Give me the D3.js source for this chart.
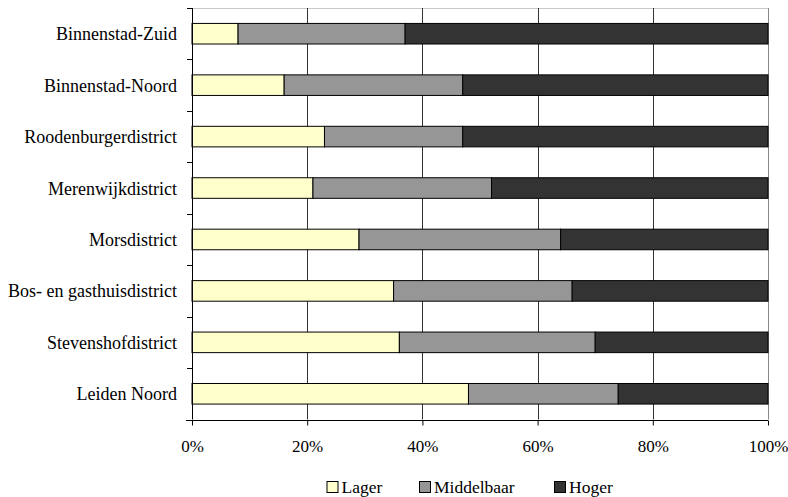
<!DOCTYPE html>
<html>
<head>
<meta charset="utf-8">
<script src="https://cdn.jsdelivr.net/npm/d3@7"></script>
<style>
  html, body { margin: 0; padding: 0; background: #fff; }
</style>
</head>
<body>
<svg id="chart" width="788" height="497"></svg>
<script>
// Opleidingsniveau per district (aandeel in %)
const categories = [
  "Binnenstad-Zuid",
  "Binnenstad-Noord",
  "Roodenburgerdistrict",
  "Merenwijkdistrict",
  "Morsdistrict",
  "Bos- en gasthuisdistrict",
  "Stevenshofdistrict",
  "Leiden Noord"
];
const seriesNames = ["Lager", "Middelbaar", "Hoger"];
const lager      = [8, 16, 23, 21, 29, 35, 36, 48];
const middelbaar = [29, 31, 24, 31, 35, 31, 34, 26];
const hoger      = [63, 53, 53, 48, 36, 34, 30, 26];
const xTicks = [0, 0.2, 0.4, 0.6, 0.8, 1];
const colors = ["#FFFFCC", "#969696", "#333333"];

const FONT = '"Liberation Serif", "Times New Roman", serif';

const svg = d3.select("#chart");
const margin = { left: 192, right: 20, top: 8, bottom: 77.5 };
const W = 788, H = 497;
const x0 = margin.left, x1 = W - margin.right;
const y0 = margin.top, y1 = H - margin.bottom;

const x = d3.scaleLinear().domain([0, 1]).range([x0, x1]);
const y = d3.scaleBand().domain(categories).range([y0, y1])
  .paddingInner(0.6).paddingOuter(0.3);

// rows: per category the three shares as fractions
const rows = categories.map((c, i) => ({
  cat: c, Lager: lager[i] / 100, Middelbaar: middelbaar[i] / 100, Hoger: hoger[i] / 100
}));
const stacked = d3.stack().keys(seriesNames)(rows);

// plot frame (top edge)
svg.append("line").attr("x1", x0).attr("x2", x1).attr("y1", y0 + 0.5).attr("y2", y0 + 0.5)
  .attr("stroke", "#c8c8c8").attr("stroke-width", 1);

// vertical gridlines
svg.append("g").selectAll("line").data(xTicks.slice(1)).join("line")
  .attr("x1", d => Math.round(x(d)) + 0.5).attr("x2", d => Math.round(x(d)) + 0.5)
  .attr("y1", y0).attr("y2", y1)
  .attr("stroke", d => d === 1 ? "#888" : "#333").attr("stroke-width", 1);

// stacked bars
svg.append("g").selectAll("g").data(stacked).join("g")
  .attr("fill", (d, i) => colors[i])
  .selectAll("rect").data(d => d).join("rect")
  .attr("x", d => x(d[0]))
  .attr("y", d => y(d.data.cat))
  .attr("width", d => x(d[1]) - x(d[0]))
  .attr("height", y.bandwidth())
  .attr("stroke", "#000").attr("stroke-width", 1);

// left axis with ticks at category boundaries
const yAxisG = svg.append("g");
yAxisG.append("line").attr("x1", x0 + 0.5).attr("x2", x0 + 0.5).attr("y1", y0).attr("y2", y1)
  .attr("stroke", "#000");
const rowH = (y1 - y0) / categories.length;
const boundaries = d3.range(categories.length + 1).map(i => y0 + i * rowH);
yAxisG.selectAll("line.tick").data(boundaries).join("line").attr("class", "tick")
  .attr("x1", x0 - 5).attr("x2", x0)
  .attr("y1", d => Math.round(d) + 0.5).attr("y2", d => Math.round(d) + 0.5)
  .attr("stroke", "#000");
yAxisG.selectAll("text").data(categories).join("text")
  .attr("x", 177).attr("y", d => y(d) + y.bandwidth() / 2)
  .attr("dy", "0.36em").attr("text-anchor", "end")
  .style("font-family", FONT).style("font-size", "18px").attr("fill", "#000")
  .text(d => d);

// bottom axis
const xAxis = d3.axisBottom(x).tickValues(xTicks).tickFormat(d3.format(".0%"))
  .tickSize(5).tickPadding(14.5);
const xg = svg.append("g").attr("transform", `translate(0,${Math.round(y1) + 0.5})`).call(xAxis);
xg.attr("font-family", null).attr("font-size", null);
xg.select(".domain").attr("d", `M${x0 - 6},0H${x1}`).attr("stroke", "#000");
xg.selectAll(".tick line").attr("stroke", "#000");
xg.selectAll("text")
  .style("font-family", FONT).style("font-size", "17px").attr("fill", "#000");

// legend
const legendX = [327, 419.5, 554.5];
const leg = svg.append("g").selectAll("g").data(seriesNames).join("g")
  .attr("transform", (d, i) => `translate(${legendX[i]},481.5)`);
leg.append("rect").attr("width", 11).attr("height", 11)
  .attr("fill", (d, i) => colors[i]).attr("stroke", "#000").attr("stroke-width", 1);
leg.append("text").attr("x", 14.5).attr("y", 11.2)
  .style("font-family", FONT).style("font-size", "17.5px").attr("fill", "#000")
  .text(d => d);
</script>
</body>
</html>
